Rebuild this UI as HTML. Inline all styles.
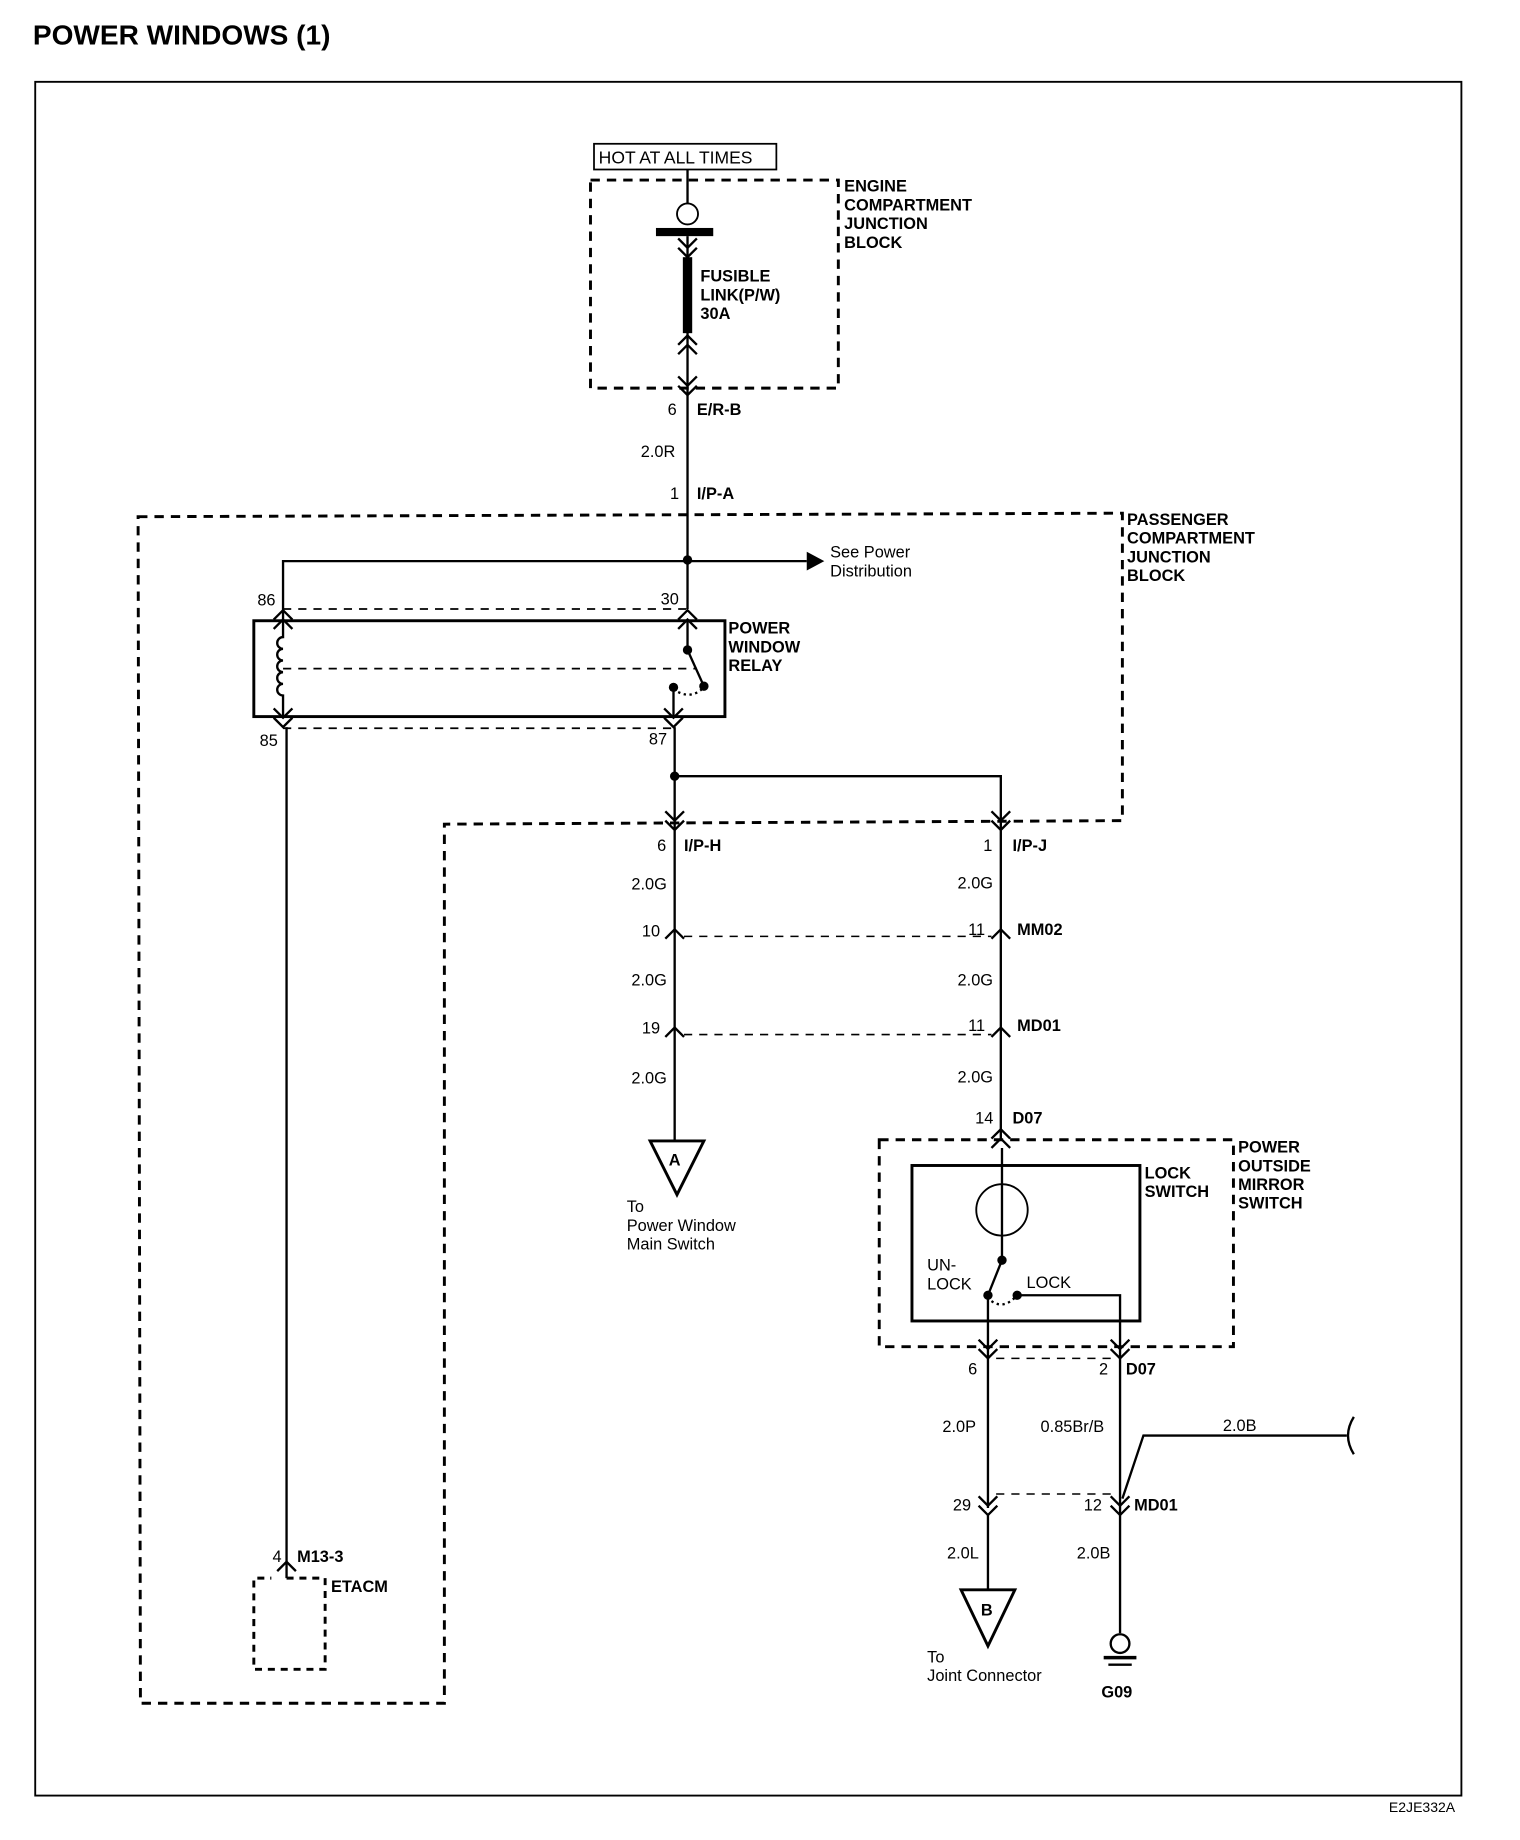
<!DOCTYPE html>
<html><head><meta charset="utf-8"><style>
html,body{margin:0;padding:0;background:#fff}
svg{display:block}
text{font-family:"Liberation Sans",Arial,sans-serif;font-size:14px;fill:#000}
.b{font-weight:bold}
</style></head><body>
<svg width="1520" height="1840" viewBox="0 0 1300 1574" xmlns="http://www.w3.org/2000/svg">
<g fill="none" stroke="#000" stroke-width="2">
<!-- frame -->
<rect x="30" y="70" width="1220" height="1466" stroke-width="1.6"/>
<!-- hot box -->
<rect x="508" y="123" width="156" height="22" stroke-width="1.5"/>
<!-- engine dashed -->
<rect x="505" y="154" width="212" height="178" stroke-dasharray="8,6" stroke-width="2.5"/>
<!-- passenger dashed -->
<polygon points="118,442 960,439 960,702 380,705 380,1457 120,1457" stroke-dasharray="8,6" stroke-width="2.5"/>
<!-- mirror switch dashed -->
<rect x="752" y="975" width="303" height="177" stroke-dasharray="8,6" stroke-width="2.5"/>
<!-- ETACM -->
<polyline points="245,1350 278,1350 278,1428 217,1428 217,1350 232,1350" stroke-dasharray="6,5" stroke-width="2.5"/>
<!-- main wire -->
<line x1="588" y1="145" x2="588" y2="174"/>
<circle cx="588" cy="183" r="9" stroke-width="1.6"/>
<line x1="588" y1="284" x2="588" y2="521"/>
<line x1="588" y1="202" x2="588" y2="222"/>
<!-- connectors engine -->
<polyline points="580,204 588,212 596,204"/><polyline points="580,212 588,220 596,212"/>
<polyline points="580,295 588,287 596,295"/><polyline points="580,303 588,295 596,303"/>
<polyline points="580,322 588,330 596,322"/><polyline points="580,330 588,338 596,330"/>
<!-- distribution -->
<polyline points="242,532 242,480 690,480"/>
<!-- relay -->
<rect x="217" y="531" width="403" height="82" stroke-width="2.5"/>
<line x1="242" y1="521" x2="588" y2="521" stroke-dasharray="7,6" stroke-width="1.5"/>
<line x1="242" y1="623" x2="576" y2="623" stroke-dasharray="7,6" stroke-width="1.5"/>
<line x1="242" y1="572" x2="596" y2="572" stroke-dasharray="7,6" stroke-width="1.5"/>
<polyline points="234,530 242,522 250,530"/><polyline points="234,538 242,530 250,538"/>
<polyline points="580,530 588,522 596,530"/><polyline points="580,538 588,530 596,538"/>
<polyline points="234,606 242,614 250,606"/><polyline points="234,614 242,622 250,614"/>
<polyline points="568,606 576,614 584,606"/><polyline points="568,614 576,622 584,614"/>
<path d="M242,530 V545 a5,5 0 0 0 0,10 a5,5 0 0 0 0,10 a5,5 0 0 0 0,10 a5,5 0 0 0 0,10 a5,5 0 0 0 0,10 V614"/>
<line x1="588" y1="530" x2="588" y2="556"/>
<line x1="588" y1="556" x2="602" y2="587"/>
<line x1="576" y1="588" x2="576" y2="614"/>
<path d="M580,592 Q592,598 602,588" stroke-dasharray="2,3"/>
<!-- 85 wire -->
<line x1="245" y1="622" x2="245" y2="1350"/>
<polyline points="237,1344 245,1336 253,1344"/>
<!-- 87 -->
<line x1="577" y1="622" x2="577" y2="975"/>
<polyline points="577,664 856,664 856,975"/>
<polyline points="569,694 577,702 585,694"/><polyline points="569,702 577,710 585,702"/>
<polyline points="848,694 856,702 864,694"/><polyline points="848,702 856,710 864,702"/>
<polyline points="569,803 577,795 585,803"/><polyline points="569,887 577,879 585,887"/>
<polyline points="848,803 856,795 864,803"/><polyline points="848,887 856,879 864,887"/>
<line x1="585" y1="801" x2="848" y2="801" stroke-dasharray="7,6" stroke-width="1.3"/>
<line x1="585" y1="885" x2="848" y2="885" stroke-dasharray="7,6" stroke-width="1.3"/>
<!-- triangle A -->
<polygon points="556,976 602,976 579,1022" stroke-width="2.5"/>
<!-- mirror switch -->
<polyline points="848,974 856,966 864,974"/><polyline points="848,982 856,974 864,982"/>
<rect x="780" y="997" width="195" height="133" stroke-width="2.5"/>
<circle cx="857" cy="1035" r="22" stroke-width="1.6"/>
<line x1="857" y1="982" x2="857" y2="1078"/>
<line x1="857" y1="1078" x2="845" y2="1108"/>
<polyline points="870,1108 958,1108 958,1160"/>
<line x1="845" y1="1108" x2="845" y2="1290"/>
<path d="M848,1113 Q858,1120 868,1110" stroke-dasharray="2,3"/>
<polyline points="837,1146 845,1154 853,1146"/><polyline points="837,1154 845,1162 853,1154"/>
<polyline points="950,1146 958,1154 966,1146"/><polyline points="950,1154 958,1162 966,1154"/>
<line x1="852" y1="1162" x2="950" y2="1162" stroke-dasharray="7,6" stroke-width="1.3"/>
<line x1="958" y1="1160" x2="958" y2="1397"/>
<polyline points="960,1282 978,1228 1152,1228"/>
<path d="M1158,1212 Q1148,1228 1158,1244" />
<polyline points="837,1280 845,1288 853,1280"/><polyline points="837,1288 845,1296 853,1288"/>
<polyline points="950,1280 958,1288 966,1280"/><polyline points="950,1288 958,1296 966,1288"/>
<line x1="852" y1="1278" x2="950" y2="1278" stroke-dasharray="7,6" stroke-width="1.3"/>
<line x1="845" y1="1296" x2="845" y2="1360"/>
<polygon points="822,1360 868,1360 845,1408" stroke-width="2.5"/>
<!-- ground -->
<circle cx="958" cy="1406" r="8"/>
<line x1="944" y1="1418" x2="972" y2="1418" stroke-width="3"/>
<line x1="948" y1="1424" x2="968" y2="1424" stroke-width="2"/>
</g>
<g fill="#000">
<rect x="561" y="195" width="49" height="7"/>
<rect x="584" y="220" width="8" height="65"/>
<polygon points="690,472 705,480 690,488"/>
<circle cx="588" cy="479" r="4"/>
<circle cx="577" cy="664" r="4"/>
<circle cx="588" cy="556" r="4"/><circle cx="602" cy="587" r="4"/><circle cx="576" cy="588" r="4"/>
<circle cx="857" cy="1078" r="4"/><circle cx="845" cy="1108" r="4"/><circle cx="870" cy="1108" r="4"/>
</g>
<text x="28" y="38" class="b" style="font-size:24px">POWER  WINDOWS (1)</text>
<text x="512" y="140" style="font-size:15px">HOT AT ALL TIMES</text>
<g class="b">
<text x="722" y="164" class="b">ENGINE</text><text x="722" y="180" class="b">COMPARTMENT</text><text x="722" y="196" class="b">JUNCTION</text><text x="722" y="212" class="b">BLOCK</text>
<text x="599" y="241" class="b">FUSIBLE</text><text x="599" y="257" class="b">LINK(P/W)</text><text x="599" y="273" class="b">30A</text>
<text x="596" y="355" class="b">E/R-B</text><text x="596" y="427" class="b">I/P-A</text>
<text x="964" y="449" class="b">PASSENGER</text><text x="964" y="465" class="b">COMPARTMENT</text><text x="964" y="481" class="b">JUNCTION</text><text x="964" y="497" class="b">BLOCK</text>
<text x="623" y="542" class="b">POWER</text><text x="623" y="558" class="b">WINDOW</text><text x="623" y="574" class="b">RELAY</text>
<text x="585" y="728" class="b">I/P-H</text><text x="866" y="728" class="b">I/P-J</text>
<text x="870" y="800" class="b">MM02</text><text x="870" y="882" class="b">MD01</text><text x="866" y="961" class="b">D07</text>
<text x="1059" y="986" class="b">POWER</text><text x="1059" y="1002" class="b">OUTSIDE</text><text x="1059" y="1018" class="b">MIRROR</text><text x="1059" y="1034" class="b">SWITCH</text>
<text x="979" y="1008" class="b">LOCK</text><text x="979" y="1024" class="b">SWITCH</text>
<text x="963" y="1176" class="b">D07</text><text x="970" y="1292" class="b">MD01</text>
<text x="254" y="1336" class="b">M13-3</text><text x="283" y="1362" class="b">ETACM</text>
<text x="942" y="1452" class="b">G09</text>
<text x="572" y="997" class="b">A</text><text x="839" y="1382" class="b">B</text>
</g>
<text x="571" y="355">6</text><text x="548" y="391">2.0R</text><text x="573" y="427">1</text>
<text x="710" y="477">See Power</text><text x="710" y="493">Distribution</text>
<text x="220" y="518">86</text><text x="565" y="517">30</text><text x="222" y="638">85</text><text x="555" y="637">87</text>
<text x="562" y="728">6</text><text x="841" y="728">1</text>
<text x="540" y="761">2.0G</text><text x="819" y="760">2.0G</text>
<text x="549" y="801">10</text><text x="828" y="800">11</text>
<text x="540" y="843">2.0G</text><text x="819" y="843">2.0G</text>
<text x="549" y="884">19</text><text x="828" y="882">11</text>
<text x="540" y="927">2.0G</text><text x="819" y="926">2.0G</text>
<text x="834" y="961">14</text>
<text x="536" y="1037">To</text><text x="536" y="1053">Power Window</text><text x="536" y="1069">Main Switch</text>
<text x="793" y="1087">UN-</text><text x="793" y="1103">LOCK</text><text x="878" y="1102">LOCK</text>
<text x="828" y="1176">6</text><text x="940" y="1176">2</text>
<text x="806" y="1225">2.0P</text><text x="890" y="1225">0.85Br/B</text><text x="1046" y="1224">2.0B</text>
<text x="815" y="1292">29</text><text x="927" y="1292">12</text>
<text x="810" y="1333">2.0L</text><text x="921" y="1333">2.0B</text>
<text x="793" y="1422">To</text><text x="793" y="1438">Joint Connector</text>
<text x="233" y="1336">4</text>
<text x="1188" y="1550" style="font-size:12px">E2JE332A</text>
</svg>
</body></html>
